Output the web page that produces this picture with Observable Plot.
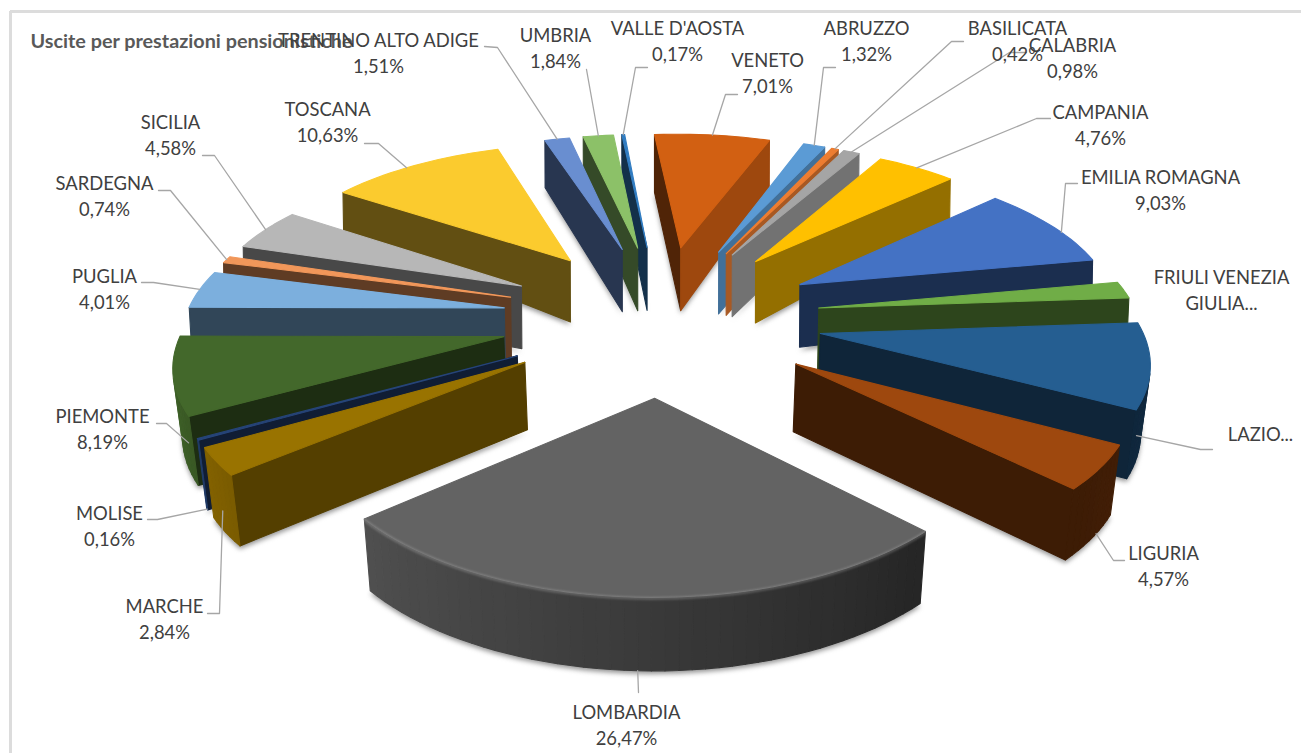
<!DOCTYPE html>
<html lang="it">
<head>
<meta charset="utf-8">
<title>Uscite per prestazioni pensionistiche</title>
<script src="https://cdn.jsdelivr.net/npm/d3@7"></script>
<script src="https://cdn.jsdelivr.net/npm/@observablehq/plot@0.6"></script>
<style>
  html, body { margin: 0; padding: 0; background: #fff; }
  svg { display: block; }
</style>
</head>
<body>
<div id="chart"></div>
<script>
// Regional shares of pension outlays, in percent, clockwise from ABRUZZO.
const regions = ["ABRUZZO", "BASILICATA", "CALABRIA", "CAMPANIA", "EMILIA ROMAGNA", "FRIULI VENEZIA GIULIA",
  "LAZIO", "LIGURIA", "LOMBARDIA", "MARCHE", "MOLISE", "PIEMONTE", "PUGLIA", "SARDEGNA", "SICILIA",
  "TOSCANA", "TRENTINO ALTO ADIGE", "UMBRIA", "VALLE D'AOSTA", "VENETO"];
const shares = [1.32, 0.42, 0.98, 4.76, 9.03, 1.80, 8.97, 4.57, 26.47, 2.84, 0.16, 8.19, 4.01, 0.74, 4.58,
  10.63, 1.51, 1.84, 0.17, 7.01];
const colours = ["#5B9BD5", "#ED7D31", "#A5A5A5", "#FFC000", "#4472C4", "#70AD47", "#255E91", "#9E480E",
  "#636363", "#997300", "#264478", "#43682B", "#7CAFDD", "#F1975A", "#B7B7B7", "#FBCB2E", "#698ED0",
  "#8CC168", "#327DC2", "#D26012"];

// Labels the chart truncates; their share is not printed.
const truncated = {"FRIULI VENEZIA GIULIA": "FRIULI VENEZIA\nGIULIA...", "LAZIO": "LAZIO..."};

// Label block centres.
const labelAt = {
  "ABRUZZO": [866, 41], "BASILICATA": [1017, 41], "CALABRIA": [1072, 58], "CAMPANIA": [1100, 125],
  "EMILIA ROMAGNA": [1160, 190], "FRIULI VENEZIA GIULIA": [1221, 290], "LAZIO": [1260, 434],
  "LIGURIA": [1163, 566], "LOMBARDIA": [626, 725], "MARCHE": [164, 619], "MOLISE": [109, 526],
  "PIEMONTE": [102, 429], "PUGLIA": [104, 289], "SARDEGNA": [104, 196], "SICILIA": [170, 135],
  "TOSCANA": [327, 122], "TRENTINO ALTO ADIGE": [378, 53], "UMBRIA": [555, 48], "VALLE D'AOSTA": [677, 41],
  "VENETO": [767, 73]
};

// Leader lines: where they leave the slice (t along the rim, f down the wall), then their elbows.
const leaderPaths = {
  "ABRUZZO": {t: .5, f: 0, via: [[823, 67], [835, 67]]},
  "BASILICATA": {t: .5, f: 0, via: [[951, 41], [963, 41]]},
  "CALABRIA": {t: .5, f: 0, via: [[1009, 52], [1026, 52]]},
  "CAMPANIA": {t: .5, f: 0, via: [[1036, 118], [1050, 118]]},
  "EMILIA ROMAGNA": {t: .6, f: 0, via: [[1065, 183], [1077, 183]]},
  "LAZIO": {t: .9, f: .5, via: [[1200, 449], [1212, 449]]},
  "LIGURIA": {t: .4, f: 1, via: [[1113, 560], [1124, 560]]},
  "LOMBARDIA": {t: .5, f: 1, via: [[638, 692]]},
  "MARCHE": {t: .5, f: .7, via: [[219, 613], [207, 613]]},
  "MOLISE": {t: .5, f: 1, via: [[157, 519], [147, 519]]},
  "PIEMONTE": {t: .1, f: .5, via: [[166, 423], [156, 423]]},
  "PUGLIA": {t: .5, f: 0, via: [[153, 282], [141, 282]]},
  "SARDEGNA": {t: .5, f: 0, via: [[170, 190], [158, 190]]},
  "SICILIA": {t: .5, f: 0, via: [[214, 155], [202, 155]]},
  "TOSCANA": {t: .45, f: 0, via: [[378, 143], [364, 143]]},
  "TRENTINO ALTO ADIGE": {t: .5, f: 0, via: [[497, 47], [484, 46]]},
  "UMBRIA": {t: .5, f: 0, via: [[586, 69]]},
  "VALLE D'AOSTA": {t: .5, f: 0, via: [[635, 67], [647, 67]]},
  "VENETO": {t: .5, f: 0, via: [[725, 94], [737, 94]]}
};

// Perspective view of the exploded disc.
const view = {cx: 661, cy: 317, radius: 312, stretch: 1.02, explode: 160, depth: 0.00044, tilt: 0.47, firstAngle: 20};
const rad = Math.PI / 180;

function project(u, v, fraction = 0) {
  const s = 1 / (1 - view.depth * v);
  const U = u * s;
  const wall = 66 + 0.016 * v - 0.00022 * Math.abs(U) * Math.max(0, -v);
  const lean = -U * 0.02 * Math.min(1, Math.max(0.1, (v + 100) / 200));
  return [view.cx + U + lean * fraction, view.cy + view.tilt * v * s + wall * fraction];
}

const cutShade = d3.scaleLinear([110, 137, 150, 170, 265], [.75, .58, .43, .4, .38]).clamp(true);
const rimShade = d3.scaleLinear([100, 136, 180, 230, 260], [.45, .38, .58, .8, .95]).clamp(true);
const darken = (c, k) => { const r = d3.rgb(c); return d3.rgb(r.r * k, r.g * k, r.b * k).formatHex(); };
const turned = (a) => ((a % 360) + 360) % 360;

// Signed screen area, used to skip walls that face away from the viewer.
const area = (p) => d3.sum(p, (q, i) => { const n = p[(i + 1) % p.length]; return q[0] * n[1] - n[0] * q[1]; });

const total = d3.sum(shares);
let running = view.firstAngle;
const slices = regions.map((name, i) => {
  const a0 = running;
  const a1 = (running += shares[i] / total * 360);
  const mid = (a0 + a1) / 2;
  const ox = view.explode * Math.sin(mid * rad);
  const oy = -view.explode * Math.cos(mid * rad);
  const at = (angle, r, f = 0) =>
    project(ox + r * view.stretch * Math.sin(angle * rad), oy - r * Math.cos(angle * rad), f);
  return {name, share: shares[i], colour: colours[i], a0, a1, mid, oy, at};
});

const shadowCells = [], faceCells = [], rimGlow = [];
let cell = 0;
const addFace = (points, fill) => {
  const id = cell++;
  points.forEach(([x, y]) => faceCells.push({id, x, y, fill}));
};

// Nearer slices are painted over farther ones.
for (const sl of d3.sort(slices, (d) => d.oy)) {
  const n = Math.max(2, Math.ceil((sl.a1 - sl.a0) / 2));
  const angles = d3.range(n + 1).map((k) => sl.a0 + (sl.a1 - sl.a0) * k / n);

  const id = shadowCells.length ? shadowCells[shadowCells.length - 1].id + 1 : 0;
  [sl.at(sl.a0, 0, 1), ...angles.map((a) => sl.at(a, view.radius, 1))]
    .forEach(([x, y]) => shadowCells.push({id, x, y: y + 3}));

  const startWall = [sl.at(sl.a0, 0), sl.at(sl.a0, view.radius), sl.at(sl.a0, view.radius, 1), sl.at(sl.a0, 0, 1)];
  if (area(startWall) < 0) addFace(startWall, darken(sl.colour, cutShade(turned(sl.a0 - 90))));
  const endWall = [sl.at(sl.a1, 0), sl.at(sl.a1, view.radius), sl.at(sl.a1, view.radius, 1), sl.at(sl.a1, 0, 1)];
  if (area(endWall) > 0) addFace(endWall, darken(sl.colour, cutShade(turned(sl.a1 + 90))));

  angles.slice(1).forEach((a, k) => {
    const b = angles[k];
    const quad = [sl.at(b, view.radius), sl.at(a, view.radius), sl.at(a, view.radius, 1), sl.at(b, view.radius, 1)];
    if (area(quad) < 0) addFace(quad, darken(sl.colour, rimShade(turned((a + b) / 2))));
  });

  addFace([sl.at(sl.a0, 0), ...angles.map((a) => sl.at(a, view.radius))], sl.colour);

  // The largest slice carries a soft bevel along its rim.
  if (sl.share > 20) {
    angles.forEach((a) => {
      const [x, y] = sl.at(a, view.radius);
      rimGlow.push({x, y});
    });
  }
}

const labels = slices.map((sl) => {
  const [x, y] = labelAt[sl.name];
  const text = truncated[sl.name] ?? `${sl.name}\n${sl.share.toFixed(2).replace(".", ",")}%`;
  return {x, y, text};
});

const leaders = slices.filter((sl) => leaderPaths[sl.name]).flatMap((sl) => {
  const {t, f, via} = leaderPaths[sl.name];
  const [x, y] = sl.at(sl.a0 + (sl.a1 - sl.a0) * t, view.radius, f);
  return [[x, y], ...via].map(([px, py]) => ({name: sl.name, x: px, y: py}));
});

const chart = Plot.plot({
  width: 1301,
  height: 753,
  margin: 0,
  x: {domain: [0, 1301], range: [0, 1301], axis: null},
  y: {domain: [0, 753], range: [0, 753], axis: null},
  color: {type: "identity"},
  style: {background: "#fff"},
  marks: [
    // chart frame
    Plot.ruleY([11], {x1: 10, x2: 1301, stroke: "#dcdcdc", strokeWidth: 3}),
    Plot.ruleX([10], {y1: 11, y2: 753, stroke: "#dcdcdc", strokeWidth: 3}),
    // soft contact shadow under the slices
    Plot.line(shadowCells, {x: "x", y: "y", z: "id", curve: "linear-closed", fill: "#6e6e6e", stroke: "none",
      fillOpacity: 0.75, imageFilter: "blur(2.5px)"}),
    // slice walls and tops
    Plot.line(faceCells, {x: "x", y: "y", z: "id", curve: "linear-closed", fill: "fill", stroke: "fill",
      strokeWidth: 1.1, strokeLinejoin: "round"}),
    // bevel highlight along the rim
    Plot.line(rimGlow, {x: "x", y: "y", dy: 1, stroke: "#ffffff", strokeOpacity: 0.2, strokeWidth: 3,
      imageFilter: "blur(1.2px)"}),
    // leader lines
    Plot.line(leaders, {x: "x", y: "y", z: "name", stroke: "#a6a6a6", strokeWidth: 1.3}),
    // title and slice labels
    Plot.text(["Uscite per prestazioni pensionistiche"], {x: 30, y: 41, textAnchor: "start", fill: "#595959",
      fontFamily: "Lato", fontWeight: 700, fontSize: 19.8}),
    Plot.text(labels, {x: "x", y: "y", dy: -2, text: "text", fill: "#404040", fontFamily: "Lato", fontSize: 18.4, lineHeight: 1.45})
  ]
});
document.getElementById("chart").append(chart);
</script>
</body>
</html>
